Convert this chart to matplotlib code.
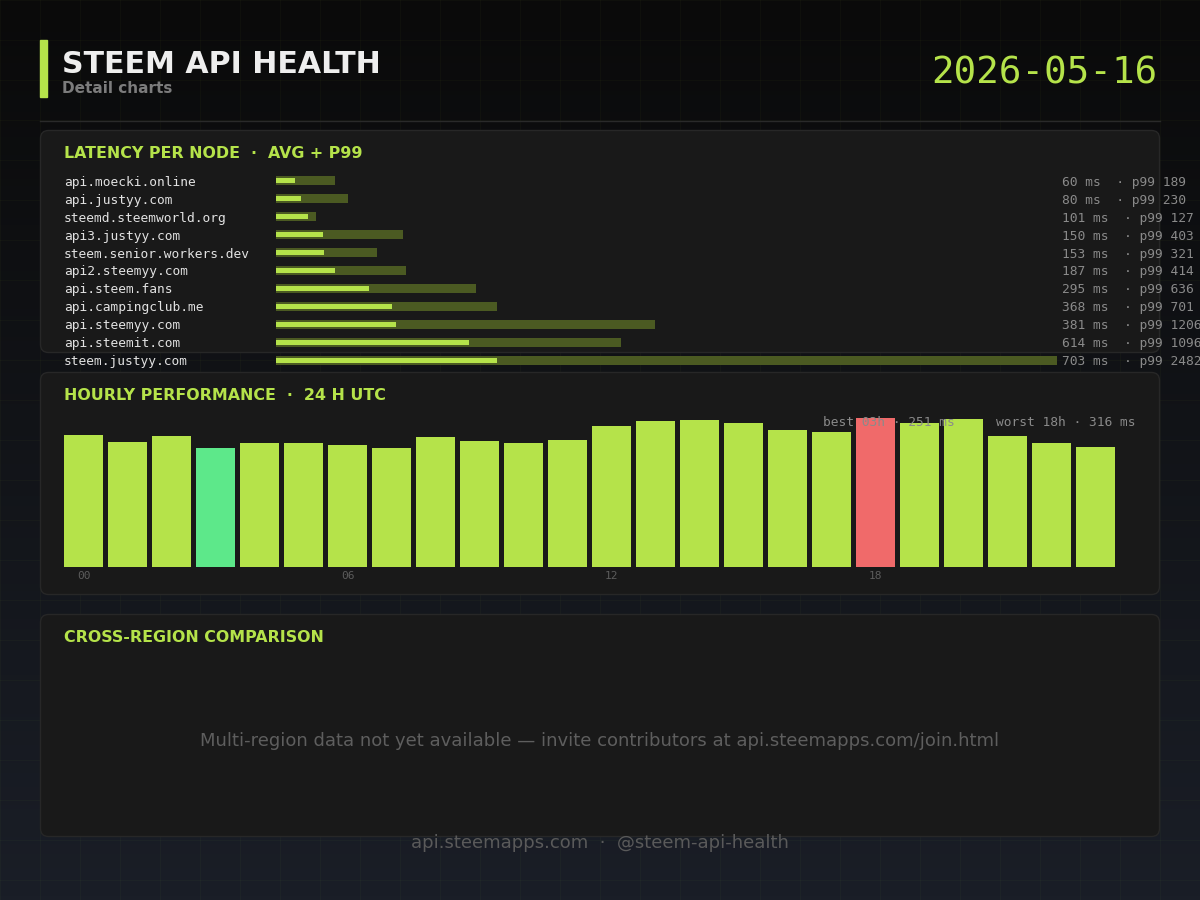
import numpy as np
import matplotlib
matplotlib.use("Agg")
import matplotlib.pyplot as plt
from matplotlib.patches import FancyBboxPatch, Rectangle
from matplotlib.transforms import blended_transform_factory

# ---------------- data ----------------
nodes = ["api.moecki.online", "api.justyy.com", "steemd.steemworld.org",
         "api3.justyy.com", "steem.senior.workers.dev", "api2.steemyy.com",
         "api.steem.fans", "api.campingclub.me", "api.steemyy.com",
         "api.steemit.com", "steem.justyy.com"]
avg_ms = [60, 80, 101, 150, 153, 187, 295, 368, 381, 614, 703]
p99_ms = [189, 230, 127, 403, 321, 414, 636, 701, 1206, 1096, 2482]

hours = ["00", "01", "02", "03", "04", "05", "06", "07", "08", "09", "10", "11",
         "12", "13", "14", "15", "16", "17", "18", "19", "20", "21", "22", "23"]
hourly_ms = [280, 265, 278, 251, 263, 263, 259, 253, 276, 267, 263, 269,
             299, 310, 312, 305, 291, 286, 316, 305, 314, 278, 263, 255]
hour_ticks = ["00", "06", "12", "18"]

title = "STEEM API HEALTH"
subtitle = "Detail charts"
date_str = "2026-05-16"

# ---------------- style ----------------
LIME = "#b5e34a"
DARK_LIME = "#4b5a22"
GREEN = "#5de88a"
RED = "#f06a6a"
PANEL = "#191919"
PANEL_EDGE = "#272727"
MONO = "DejaVu Sans Mono"
SANS = "DejaVu Sans"

W, H = 1200, 900
fig = plt.figure(figsize=(12, 9), dpi=100)

def fx(px):
    return px / W

def fy(py):
    return 1 - py / H

# background axes in pixel coordinates
bg = fig.add_axes([0, 0, 1, 1])
bg.set_xlim(0, W)
bg.set_ylim(H, 0)
bg.axis("off")

top = np.array([0x0a, 0x0a, 0x0a]) / 255
bot = np.array([0x1a, 0x1e, 0x27]) / 255
t = np.linspace(0, 1, 256)[:, None]
grad = (top[None, :] * (1 - t) + bot[None, :] * t)[:, None, :]
bg.imshow(grad, extent=(0, W, H, 0), aspect="auto", zorder=0)

for gx in range(0, W + 1, 40):
    bg.axvline(gx, color=LIME, alpha=0.03, lw=0.8, zorder=1)
for gy in range(0, H + 1, 40):
    bg.axhline(gy, color=LIME, alpha=0.03, lw=0.8, zorder=1)

# header
bg.add_patch(Rectangle((40, 40), 7, 57, color=LIME, zorder=3))
bg.text(62, 73, title, color="#eeeeee", fontsize=21.6, fontweight="bold",
        family=SANS, va="baseline", ha="left", zorder=3)
bg.text(62, 93, subtitle, color="#7c7c7c", fontsize=11, fontweight="bold",
        family=SANS, va="baseline", ha="left", zorder=3)
bg.text(1158, 84, date_str, color=LIME, fontsize=27, family=MONO,
        va="baseline", ha="right", zorder=3)
bg.plot([40, 1160], [120.5, 120.5], color="#2a2a2a", lw=1, zorder=2)

# panels
panel_tops = [130, 372, 614]
panel_titles = ["LATENCY PER NODE  ·  AVG + P99", "HOURLY PERFORMANCE  ·  24 H UTC",
                "CROSS-REGION COMPARISON"]
for ptop, ptitle in zip(panel_tops, panel_titles):
    bg.add_patch(FancyBboxPatch((40.5, ptop + 0.5), 1119, 222,
                                boxstyle="round,pad=0,rounding_size=8",
                                fc=PANEL, ec=PANEL_EDGE, lw=1, zorder=2))
    bg.text(64, ptop + 27.5, ptitle, color=LIME, fontsize=11.4,
            fontweight="bold", family=SANS, va="baseline", ha="left", zorder=3)

# ---------------- latency per node ----------------
n = len(nodes)
row_top, row_h = 173, 18
lat = fig.add_axes([fx(276), fy(row_top + n * row_h), fx(1057 - 276), (n * row_h) / H])
lat.set_xlim(0, max(p99_ms))
lat.set_ylim(n - 0.5, -0.5)
lat.axis("off")
lat.patch.set_alpha(0)
ypos = np.arange(n)
lat.barh(ypos - 0.08, p99_ms, height=0.5, color=DARK_LIME, zorder=2)
lat.barh(ypos - 0.08, avg_ms, height=0.28, color=LIME, zorder=3)

tr = blended_transform_factory(bg.transData, lat.transData)
for i, (name, a, p) in enumerate(zip(nodes, avg_ms, p99_ms)):
    lat.text(64, i, name, transform=tr, color="#e2e2e2", fontsize=9.3,
             family=MONO, va="center", ha="left", clip_on=False)
    lat.text(1062, i, f"{a} ms  · p99 {p}", transform=tr, color="#8a8a8a",
             fontsize=9.3, family=MONO, va="center", ha="left", clip_on=False)

# ---------------- hourly performance ----------------
hb_bottom, hb_top = 567, 417
hr = fig.add_axes([fx(61.5), fy(hb_bottom), fx(1117.5 - 61.5), (hb_bottom - hb_top) / H])
hr.set_xlim(-0.5, len(hours) - 0.5)
hr.set_ylim(0, max(hourly_ms) * 1.005)
hr.patch.set_alpha(0)
best_i = int(np.argmin(hourly_ms))
worst_i = int(np.argmax(hourly_ms))
colors = [GREEN if i == best_i else RED if i == worst_i else LIME for i in range(len(hours))]
hr.bar(np.arange(len(hours)), hourly_ms, width=39 / 44, color=colors, zorder=2)
for s in hr.spines.values():
    s.set_visible(False)
hr.set_yticks([])
tick_pos = [hours.index(h) for h in hour_ticks]
hr.set_xticks(tick_pos)
hr.set_xticklabels(hour_ticks, family=MONO, fontsize=8, color="#5c5c5c")
hr.tick_params(axis="x", length=0, pad=3)

bg_front = fig.add_axes([0, 0, 1, 1])
bg_front.set_xlim(0, W)
bg_front.set_ylim(H, 0)
bg_front.axis("off")
bg_front.patch.set_alpha(0)
bg_front.text(955, 423, f"best {hours[best_i]}h · {hourly_ms[best_i]} ms", color="#8a8a8a",
              fontsize=9.3, family=MONO, va="center", ha="right")
bg_front.text(1135, 423, f"worst {hours[worst_i]}h · {hourly_ms[worst_i]} ms", color="#8a8a8a",
              fontsize=9.3, family=MONO, va="center", ha="right")

# ---------------- cross-region ----------------
bg_front.text(600, 741, "Multi-region data not yet available — invite contributors at api.steemapps.com/join.html",
              color="#5e5e5e", fontsize=13, family=SANS, va="center", ha="center")

# footer
bg_front.text(600, 843, "api.steemapps.com  ·  @steem-api-health", color="#5a5a5a",
              fontsize=13, family=SANS, va="center", ha="center")

fig.savefig("out.png", dpi=100, facecolor="#0a0a0a")
